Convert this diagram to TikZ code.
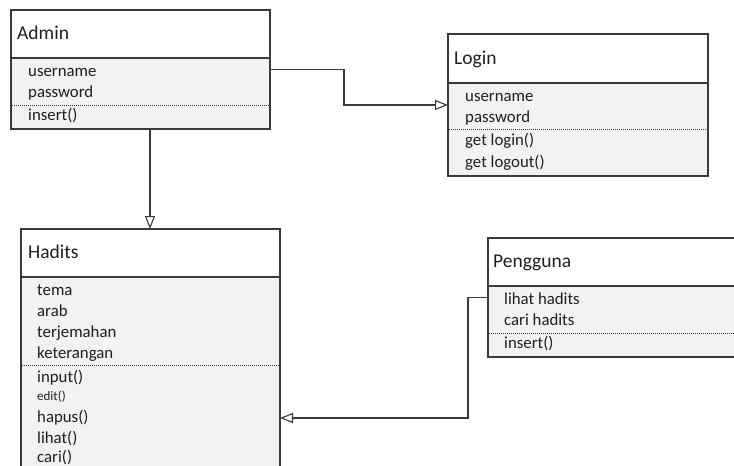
\documentclass[tikz,border=0pt]{standalone}
\usepackage{fontspec}
\setmainfont{Carlito}
\usetikzlibrary{arrows.meta,calc}
\definecolor{cfill}{HTML}{F2F2F2}
\definecolor{cline}{HTML}{3A3A3A}
\definecolor{ctext}{HTML}{1E1E1E}
\begin{document}
\begin{tikzpicture}[x=1pt,y=-1pt,
  box/.style={draw=cline, line width=1.2pt, anchor=north west, inner sep=0pt, outer sep=0pt},
  sep/.style={draw=cline, line width=1.2pt},
  dotline/.style={draw=black!80, line width=0.9pt, dash pattern=on 1pt off 1pt},
  ttl/.style={anchor=base west, inner sep=0pt, text=ctext, font=\fontsize{19.5}{23}\selectfont},
  attr/.style={anchor=base west, inner sep=0pt, text=ctext, font=\fontsize{16.8}{20}\selectfont},
  small/.style={anchor=base west, inner sep=0pt, text=ctext, font=\fontsize{13}{15}\selectfont},
  gen/.style={draw=cline, line width=1.2pt, -{Triangle[open, length=13pt, width=10pt, line width=1.1pt]}}
]
\useasboundingbox (0,0) rectangle (734,466);

% ---- Admin ----
\fill[cfill] (11,58) rectangle (270,129);
\node[box, minimum width=259pt, minimum height=119pt] (admin) at (11,10) {};
\draw[sep] (11,58) -- (270,58);
\draw[dotline] (12,105) -- (269,105);
\node[ttl] (admint) at (17,39.5) {Admin};
\node[attr] (admin1) at (28,76) {username};
\node[attr] (admin2) at (28,97) {password};
\node[attr] (admin3) at (28,120) {insert()};

% ---- Login ----
\fill[cfill] (448,83) rectangle (708,176);
\node[box, minimum width=260pt, minimum height=142pt] (login) at (448,34) {};
\draw[sep] (448,83) -- (708,83);
\draw[dotline] (449,129) -- (707,129);
\node[ttl] (logint) at (454,64) {Login};
\node[attr] (login1) at (465,101) {username};
\node[attr] (login2) at (465,122) {password};
\node[attr] (login3) at (465,145) {get login()};
\node[attr] (login4) at (465,167) {get logout()};

% ---- Hadits ----
\fill[cfill] (21,277) rectangle (280,480);
\node[box, minimum width=259pt, minimum height=260pt] (hadits) at (21,229) {};
\draw[sep] (21,277) -- (280,277);
\draw[dotline] (22,365) -- (279,365);
\node[ttl] (haditst) at (28,258) {Hadits};
\node[attr] (hadits1) at (37,295) {tema};
\node[attr] (hadits2) at (37,316) {arab};
\node[attr] (hadits3) at (37,337) {terjemahan};
\node[attr] (hadits4) at (37,358) {keterangan};
\node[attr] (hadits5) at (37,382) {input()};
\node[small] (hadits6) at (37,400) {edit()};
\node[attr] (hadits7) at (37,422) {hapus()};
\node[attr] (hadits8) at (37,443) {lihat()};
\node[attr] (hadits9) at (37,462) {cari()};

% ---- Pengguna ----
\fill[cfill] (488,286) rectangle (750,357);
\node[box, minimum width=262pt, minimum height=119pt] (pengguna) at (488,238) {};
\draw[sep] (488,286) -- (750,286);
\draw[dotline] (489,333) -- (750,333);
\node[ttl] (penggunat) at (493,267) {Pengguna};
\node[attr] (pengguna1) at (504,304) {lihat hadits};
\node[attr] (pengguna2) at (504,325) {cari hadits};
\node[attr] (pengguna3) at (504,348) {insert()};

% ---- connectors ----
\coordinate (a1) at ($(admin.south west)+(139,0)$);
\coordinate (h1) at ($(hadits.north east)+(0,189)$);
\draw[gen] (admin.east) -- ++(74,0) |- (login.west);
\draw[gen] (a1) -- (a1 |- hadits.north);
\draw[gen] (pengguna.west) -- ++(-20,0) |- (h1);
\end{tikzpicture}
\end{document}
